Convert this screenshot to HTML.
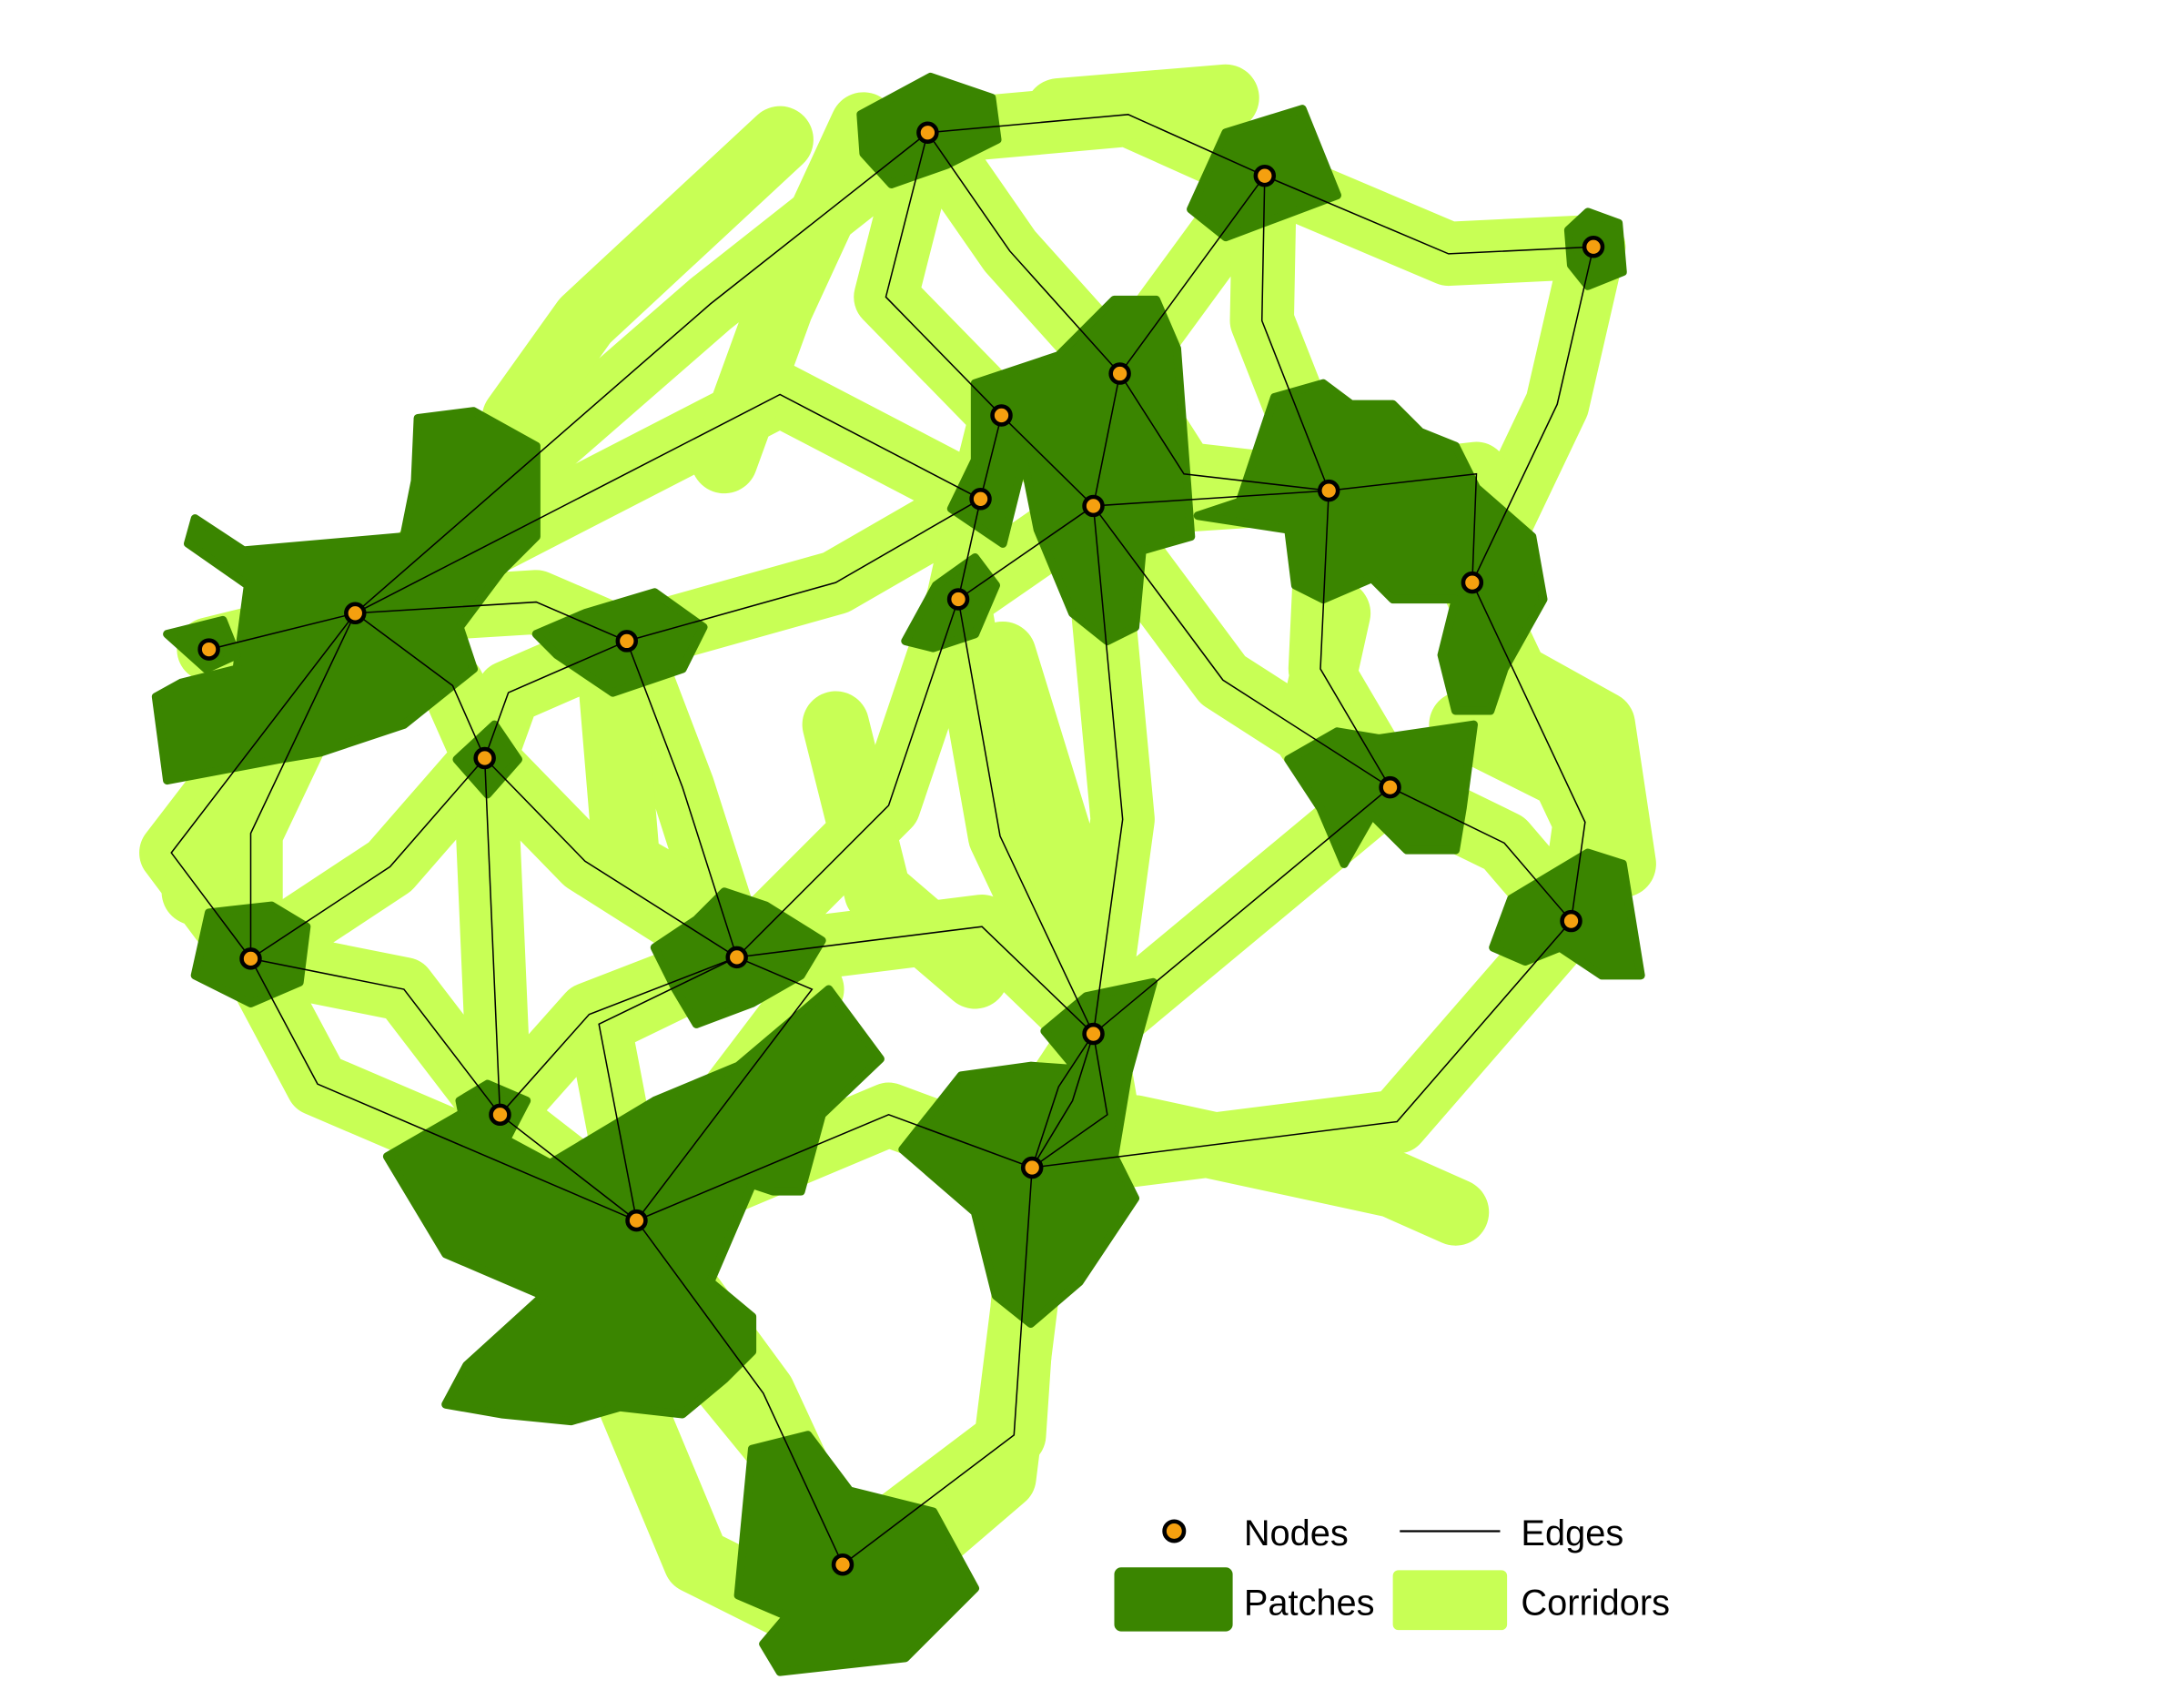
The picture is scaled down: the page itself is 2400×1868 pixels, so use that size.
<!DOCTYPE html>
<html><head><meta charset="utf-8">
<style>html,body{margin:0;padding:0;background:#fff}svg{display:block}text{font-family:"Liberation Sans",sans-serif}</style>
</head><body>
<svg id="map" width="2400" height="1868" viewBox="0 0 1568 1220" xmlns="http://www.w3.org/2000/svg">
<g id="corridors"></g>
<g id="patches"></g>
<g id="edges"></g>
<g id="nodes"></g>
<g>
<circle cx="843" cy="1099" r="7" fill="#f5a00f" stroke="#000" stroke-width="3"/>
<text x="893" y="1109" font-size="26">Nodes</text>
<line x1="1005" y1="1099" x2="1077" y2="1099" stroke="#000" stroke-width="1.5"/>
<text x="1092" y="1109" font-size="26">Edges</text>
<rect x="800" y="1125" width="85" height="46" rx="5" fill="#3a8500"/>
<text x="893" y="1159" font-size="26">Patches</text>
<rect x="1000" y="1127" width="82" height="43" rx="4" fill="#c8ff55"/>
<text x="1092" y="1159" font-size="26">Corridors</text>
</g>
</svg>
<script>
const nodeX=[666,908,1144,804,719,704,785,954,1057,688,255,150,450,348,998,1128,180,529,785,359,741,457,605];
const nodeY=[95,126,177,268,298,358,363,352,418,430,440,466,460,544,565,661,688,687,742,800,838,876,1123];
const edgeFrom=[0,1,0,0,0,1,1,2,3,3,4,4,5,5,5,6,6,6,6,7,7,8,14,14,9,9,10,10,10,10,10,12,12,13,13,13,16,16,17,17,17,17,19,18,18,18,20,20,20,21];
const edgeTo  =[1,2,10,4,3,3,7,8,6,7,6,5,12,10,9,7,9,14,18,8,14,15,15,18,18,17,11,12,13,16,16,13,17,16,19,17,19,21,18,19,21,21,21,20,20,20,21,15,22,22];
const bendX=[810,1040,510,636,725,null,906,1118,null,850,null,null,600,560,null,null,null,878,806,1060,948,1138,1080,null,718,638,null,385,325,180,123,365,490,280,null,420,290,228,705,423,430,583,null,770,795,760,638,1003,728,548];
const bendY=[82,182,218,213,180,null,230,290,null,340,null,null,418,283,null,null,null,488,588,340,480,590,605,null,600,578,null,432,492,598,612,497,565,622,null,618,710,778,665,728,735,710,null,790,800,780,800,805,1030,1000];
const patches=[
"618,82 668,55 712,70 716,100 680,118 640,132 620,110",
"855,150 880,95 935,78 960,140 920,155 880,170",
"1126,165 1140,152 1162,160 1165,195 1140,205 1128,190",
"700,275 760,255 800,215 830,215 845,250 855,385 820,395 815,450 795,460 770,440 745,380 735,330 720,390 683,365 700,330",
"890,360 915,285 950,275 970,290 1000,290 1020,310 1045,320 1060,350 1100,385 1108,430 1080,480 1070,510 1045,510 1035,470 1045,430 1000,430 985,415 950,430 930,420 925,380 860,370",
"650,460 672,420 700,400 715,420 700,455 670,465",
"300,300 340,295 385,320 385,385 360,410 330,450 340,480 290,520 230,540 200,545 120,560 112,500 130,490 170,480 178,420 135,390 140,372 175,395 290,385 298,345",
"120,455 160,445 170,470 148,480",
"385,455 420,440 470,425 505,450 490,480 440,497 400,470",
"328,545 355,520 372,545 350,570",
"925,545 960,525 990,530 1058,520 1050,580 1045,610 1010,610 985,585 965,620 948,580",
"1072,680 1085,645 1110,630 1140,612 1165,620 1178,700 1150,700 1120,680 1095,690",
"140,700 150,655 195,650 220,665 215,705 180,720",
"470,680 500,660 520,640 550,650 590,675 575,700 540,720 500,735 485,710",
"750,740 780,715 828,705 810,770 775,770",
"330,790 350,778 378,790 365,815 335,815",
"278,830 330,800 395,835 470,790 530,765 595,710 632,760 590,800 575,855 555,855 540,850 528,878 510,920 540,945 540,970 520,990 490,1015 445,1010 410,1020 360,1015 320,1008 335,980 390,930 320,900",
"648,825 690,772 740,765 810,770 800,830 815,860 775,920 740,950 715,930 700,870",
"540,1040 580,1030 610,1070 670,1085 700,1140 650,1190 560,1200 548,1180 565,1160 530,1145"];
const extraCorridors=[
"1060,470 1150,520 1165,620",
"815,810 1000,850 1045,870",
"960,440 940,530",
"1050,520 1130,560",
"560,100 420,230 370,300",
"620,90 560,220 520,330",
"760,80 880,70",
"170,560 140,640",
"440,500 450,620 520,660",
"600,520 630,640 700,700",
"720,470 760,600 780,700",
"470,930 560,1040 600,1100",
"740,900 720,1060 650,1120",
"380,860 450,1000 500,1120 560,1150"];
const svgNS="http://www.w3.org/2000/svg";
const cg=document.getElementById('corridors'),pg=document.getElementById('patches'),eg=document.getElementById('edges'),ng=document.getElementById('nodes');
function pts(i){const a=edgeFrom[i],b=edgeTo[i];let p=nodeX[a]+','+nodeY[a]+' ';if(bendX[i]!==null)p+=bendX[i]+','+bendY[i]+' ';return p+nodeX[b]+','+nodeY[b];}
for(let i=0;i<edgeFrom.length;i++){
 const c=document.createElementNS(svgNS,'polyline');
 c.setAttribute('points',pts(i));c.setAttribute('fill','none');c.setAttribute('stroke','#c8ff55');c.setAttribute('stroke-width','46');c.setAttribute('stroke-linejoin','round');c.setAttribute('stroke-linecap','round');
 
 
 cg.appendChild(c);}
for(const p of extraCorridors){
 const c=document.createElementNS(svgNS,'polyline');
 c.setAttribute('points',p);c.setAttribute('fill','none');c.setAttribute('stroke','#c8ff55');c.setAttribute('stroke-width','48');c.setAttribute('stroke-linejoin','round');c.setAttribute('stroke-linecap','round');
 
 
 cg.appendChild(c);}
for(const p of patches){
 const c=document.createElementNS(svgNS,'polygon');
 c.setAttribute('points',p);c.setAttribute('fill','#3a8500');c.setAttribute('stroke','#3a8500');c.setAttribute('stroke-width','6');c.setAttribute('stroke-linejoin','round');
 
 
 pg.appendChild(c);}
for(let i=0;i<edgeFrom.length;i++){
 const c=document.createElementNS(svgNS,'polyline');
 c.setAttribute('points',pts(i));c.setAttribute('fill','none');c.setAttribute('stroke','#000');c.setAttribute('stroke-width','1');
 
 
 eg.appendChild(c);}
for(let i=0;i<nodeX.length;i++){
 const c=document.createElementNS(svgNS,'circle');
 c.setAttribute('cx',nodeX[i]);c.setAttribute('cy',nodeY[i]);c.setAttribute('r','6.5');c.setAttribute('fill','#f5a00f');c.setAttribute('stroke','#000');c.setAttribute('stroke-width','3');
 
 
 ng.appendChild(c);}
</script>
</body></html>
